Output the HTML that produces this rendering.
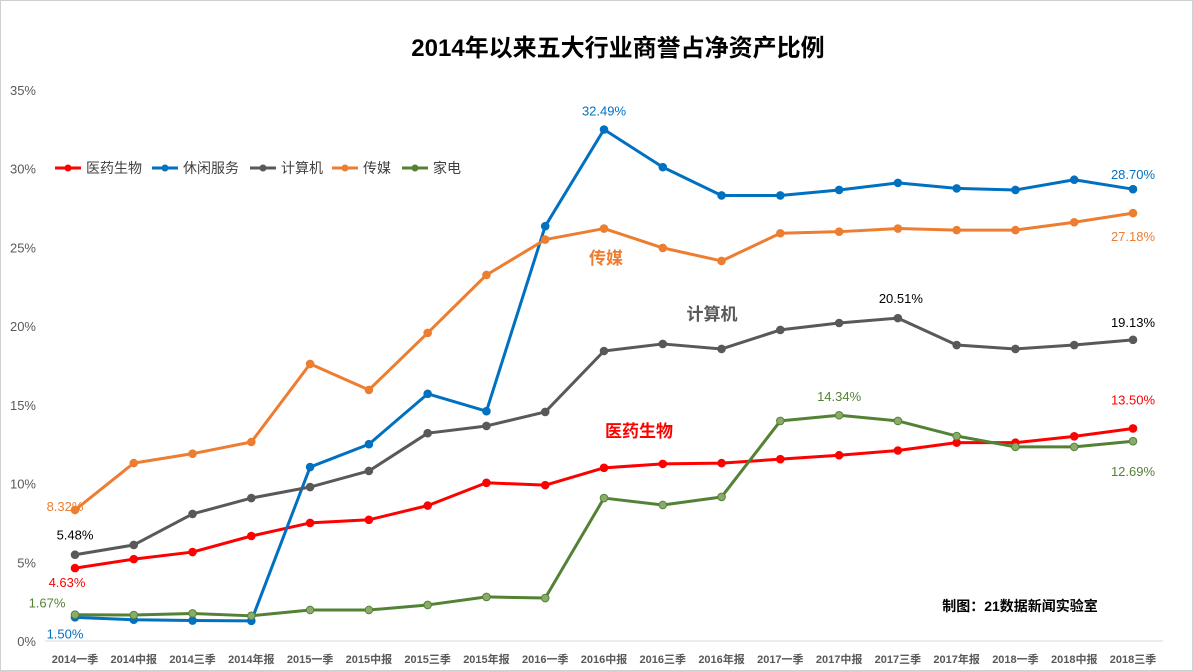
<!DOCTYPE html>
<html><head><meta charset="utf-8">
<style>
html,body{margin:0;padding:0;background:#fff;}
#wrap{position:relative;width:1193px;height:671px;overflow:hidden;}
svg text{font-family:"Liberation Sans","Noto Sans CJK SC",sans-serif;}
</style></head>
<body>
<div id="wrap">
<svg id="chart" width="1193" height="671">
<rect x="0.5" y="0.5" width="1192" height="670" fill="#fff" stroke="#d0d0d0"/>
<text x="618" y="56" text-anchor="middle" font-size="24" font-weight="bold" fill="#000">2014年以来五大行业商誉占净资产比例</text>
<g id="yaxis"></g>
<g id="xaxis"></g>
<g id="series"></g>
<g id="legend"></g>
<text x="606" y="264" font-size="17" font-weight="bold" fill="#ED7D31" text-anchor="middle">传媒</text>
<text x="712" y="320" font-size="17" font-weight="bold" fill="#595959" text-anchor="middle">计算机</text>
<text x="639" y="437" font-size="17" font-weight="bold" fill="#FF0000" text-anchor="middle">医药生物</text>
<text x="1020" y="611" font-size="14" font-weight="bold" fill="#000" text-anchor="middle">制图：21数据新闻实验室</text>
</svg>
</div>
<script>
const categories=["2014一季","2014中报","2014三季","2014年报","2015一季","2015中报","2015三季","2015年报","2016一季","2016中报","2016三季","2016年报","2017一季","2017中报","2017三季","2017年报","2018一季","2018中报","2018三季"];
const pharma=[4.63,5.2,5.65,6.67,7.5,7.7,8.6,10.05,9.9,11.0,11.25,11.3,11.55,11.8,12.1,12.6,12.6,13.0,13.5];
const leisure=[1.5,1.35,1.3,1.28,11.05,12.5,15.7,14.6,26.35,32.49,30.1,28.3,28.3,28.65,29.1,28.75,28.65,29.3,28.7];
const computer=[5.48,6.1,8.07,9.08,9.78,10.8,13.2,13.66,14.55,18.42,18.87,18.55,19.76,20.2,20.51,18.8,18.55,18.8,19.13];
const media=[8.32,11.3,11.9,12.64,17.6,15.95,19.57,23.25,25.5,26.2,24.97,24.14,25.9,26.0,26.2,26.1,26.1,26.6,27.18];
const appliance=[1.67,1.65,1.75,1.6,1.97,1.97,2.29,2.8,2.73,9.08,8.64,9.15,13.98,14.34,13.98,13.02,12.33,12.33,12.69];
const yTicks=[0,5,10,15,20,25,30,35];
const seriesNames=["医药生物","休闲服务","计算机","传媒","家电"];

const NS="http://www.w3.org/2000/svg";
const x0=75,x1=1133,yBase=641,yTop=90,yMax=35;
const xs=i=>x0+(x1-x0)*i/(categories.length-1);
const ys=v=>yBase-(yBase-yTop)*v/yMax;
function mk(tag,attrs,parent,txt){const e=document.createElementNS(NS,tag);for(const k in attrs)e.setAttribute(k,attrs[k]);if(txt!==undefined)e.textContent=txt;parent.appendChild(e);return e;}
const yg=document.getElementById('yaxis'),xg=document.getElementById('xaxis'),sg=document.getElementById('series'),lg=document.getElementById('legend');
yTicks.forEach(t=>{const e=mk('text',{x:36,y:ys(t)+5,'text-anchor':'end','font-size':13,fill:'#595959'},yg,t+'%');

});
const ax=mk('line',{x1:45,x2:1163,y1:yBase,y2:yBase,stroke:'#d9d9d9','stroke-width':1},xg);


categories.forEach((c,i)=>{const e=mk('text',{x:xs(i),y:663,'text-anchor':'middle','font-size':11,'font-weight':'bold',fill:'#595959'},xg,c);

});
const series=[
 {d:pharma,c:'#FF0000',n:'pharma',lc:'#FF0000'},
 {d:leisure,c:'#0070C0',n:'leisure',lc:'#0070C0'},
 {d:computer,c:'#595959',n:'computer',lc:'#000'},
 {d:media,c:'#ED7D31',n:'media',lc:'#ED7D31'},
 {d:appliance,c:'#548235',n:'appliance',lc:'#548235'}];
series.forEach(s=>{
 const g=mk('g',{},sg);
 
 
 const p=mk('polyline',{points:s.d.map((v,i)=>xs(i)+','+ys(v)).join(' '),fill:'none',stroke:s.c,'stroke-width':3,'stroke-linejoin':'round'},g);
 
 
 s.d.forEach((v,i)=>{const c=mk('circle',{cx:xs(i),cy:ys(v),r:3.8,fill:s.n==='appliance'?'#8aab6c':s.c,stroke:s.c,'stroke-width':1},g);
 
 });
});
function lab(s,i,dx,dy,anchor){const v=s.d[i];const t=mk('text',{x:xs(i)+dx,y:ys(v)+dy,'text-anchor':anchor||'middle','font-size':13,fill:s.lc},sg,v.toFixed(2)+'%');

}
const last=categories.length-1;
lab(series[0],0,-8,19);lab(series[0],last,0,-24);
lab(series[1],0,-10,21);lab(series[1],9,0,-14);lab(series[1],last,0,-10);
lab(series[2],0,0,-15);lab(series[2],14,3,-15);lab(series[2],last,0,-13);
lab(series[3],0,-10,1);lab(series[3],last,0,28);
lab(series[4],0,-28,-7);lab(series[4],13,0,-14);lab(series[4],last,0,35);
const leg=[[55,'#FF0000'],[152,'#0070C0'],[250,'#595959'],[332,'#ED7D31'],[402,'#548235']];
leg.forEach((l,i)=>{
 const ln=mk('line',{x1:l[0],x2:l[0]+26,y1:168,y2:168,stroke:l[1],'stroke-width':3},lg);
 
 
 mk('circle',{cx:l[0]+13,cy:168,r:3.5,fill:l[1]},lg);
 const t=mk('text',{x:l[0]+31,y:173,'font-size':14,fill:'#404040'},lg,seriesNames[i]);
 
 
});
</script>
</body></html>
